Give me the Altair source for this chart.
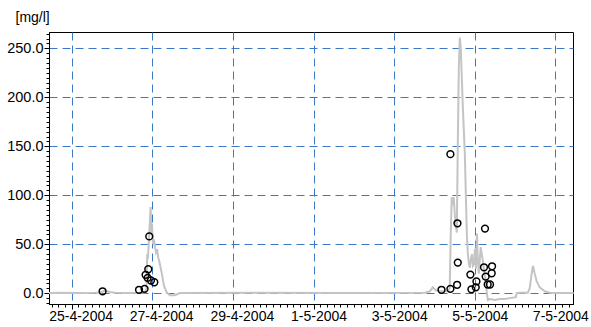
import altair as alt
import pandas as pd

# ---- data (hours after 25-4-2004 00:00, concentration in mg/l) ----
line_hours = [-13.5, -7.0, 4.9, 13.9, 16.8, 19.8, 22.8, 25.8, 34.7, 40.6, 43.6, 44.5, 45.0, 45.4,
              46.0, 46.6, 47.0, 47.5, 47.8, 48.4, 49.0, 49.6, 50.2, 50.8, 51.5, 52.5, 53.7, 54.9,
              56.5, 58.5, 61.5, 64.5, 106.1, 165.6, 210.3, 213.3, 215.0, 216.8, 219.2, 224.0,
              225.1, 225.7, 226.3, 226.9, 227.5, 228.1, 228.7, 229.3, 229.9, 230.5, 231.1, 231.7,
              232.3, 232.9, 234.1, 234.7, 235.3, 235.9, 236.5, 237.1, 237.7, 238.3, 238.9, 239.5,
              240.1, 240.7, 241.3, 241.8, 242.4, 243.0, 243.6, 244.2, 244.8, 245.4, 246.0, 246.6,
              247.2, 247.8, 249.0, 252.0, 254.9, 257.9, 260.9, 264.4, 265.0, 266.8, 271.6, 272.7,
              273.9, 274.7, 275.7, 276.9, 278.7, 281.7, 284.6, 290.6, 298.9]
line_values = [0.3, 0.5, 0.2, 0.5, 0.8, 2.5, 1.2, 0.5, 0.3, 0.5, 1.0, 5.0, 40.0, 35.0,
               55.0, 75.0, 88.0, 60.0, 71.0, 50.0, 55.0, 47.0, 42.0, 45.0, 37.0, 30.0, 20.0, 8.0,
               1.0, -2.0, -2.0, 0.2, 0.5, 0.3, 0.5, 2.0, 6.0, 3.0, 2.0, 2.0,
               5.0, 60.0, 98.0, 90.0, 98.0, 81.0, 70.0, 62.0, 150.0, 230.0, 261.0, 250.0,
               220.0, 190.0, 142.0, 100.0, 60.0, 40.0, 30.0, 26.0, 35.0, 40.0, 28.0, 30.0,
               45.0, 25.0, 61.0, 35.0, 20.0, 35.0, 47.0, 40.0, 33.0, 25.0, 18.0, 13.0,
               0.0, -7.0, -6.0, -7.0, -6.0, -6.0, -5.0, -4.0, 0.0, 0.5, 0.5, 5.0,
               20.0, 28.0, 20.0, 12.0, 6.0, 2.0, 0.5, 0.3, 0.2]

sample_hours = [18.4, 40.1, 43.4, 44.0, 45.2, 45.6, 46.2, 47.2, 49.2,
                220.2, 225.5, 229.5, 225.5, 229.7, 229.9, 246.1, 237.4, 238.0, 241.0,
                240.6, 245.5, 246.5, 250.3, 250.1, 247.7, 249.1]
sample_values = [2.0, 3.5, 4.5, 18.8, 15.7, 24.5, 58.0, 13.0, 11.2,
                 3.5, 4.5, 8.6, 142.0, 71.4, 31.3, 66.0, 19.0, 4.0, 12.0,
                 6.0, 26.5, 17.0, 27.5, 20.4, 8.9, 8.9]

major_days = ["2004-04-25", "2004-04-27", "2004-04-29", "2004-05-01",
              "2004-05-03", "2004-05-05", "2004-05-07"]
y_major = [0, 50, 100, 150, 200, 250]

base = pd.Timestamp("2004-04-25")


def to_iso(hours):
    return [(base + pd.to_timedelta(h, unit="h")).strftime("%Y-%m-%dT%H:%M:%S") for h in hours]


line_df = pd.DataFrame({"t": to_iso(line_hours), "v": line_values})
samp_df = pd.DataFrame({"t": to_iso(sample_hours), "v": sample_values})


def dt(ts):
    ts = pd.Timestamp(ts)
    return alt.DateTime(year=ts.year, month=ts.month, date=ts.day, hours=ts.hour, minutes=ts.minute)


x_domain = [dt("2004-04-24 10:30"), dt("2004-05-07 10:30")]
x_major = [dt(d) for d in major_days]
x_minor = [dt(t) for t in pd.date_range("2004-04-24 12:00", "2004-05-07 08:00", freq="4h")]
y_minor = list(range(-10, 266, 5))

FONT = "Liberation Sans"
GRID = "#3b78c8"

xscale = alt.Scale(domain=x_domain, nice=False)
yscale = alt.Scale(domain=[-11, 266.7], nice=False, zero=False)

line = alt.Chart(line_df).mark_line(color="#c4c4c4", strokeWidth=2).encode(
    x=alt.X("t:T", scale=xscale, axis=alt.Axis(
        values=x_major, format="%-d-%-m-%Y", title=None, grid=True,
        gridColor=GRID, gridDash=[8, 5], gridWidth=1, tickSize=5, tickColor="black",
        domainColor="black", labelAlign="left", labelOffset=-23, labelBaseline="top",
        labelPadding=0, labelFont=FONT, labelFontSize=14, labelColor="black",
        labelOverlap=False, labelFlush=False, orient="bottom")),
    y=alt.Y("v:Q", scale=yscale, axis=alt.Axis(
        values=y_major, format=".1f", title="[mg/l]", grid=True,
        gridColor=GRID, gridDash=[8, 5], gridWidth=1, tickSize=5, tickColor="black",
        domainColor="black", labelPadding=1, labelFont=FONT, labelFontSize=14.5,
        labelColor="black", titleAngle=0, titleAlign="left", titleBaseline="alphabetic",
        titleX=-34, titleY=-11, titleFont=FONT, titleFontSize=14, titleFontWeight="normal",
        titleColor="black", orient="left")),
)

pts = alt.Chart(samp_df).mark_point(shape="circle", filled=False, color="black",
                                    strokeWidth=1.5, size=46, opacity=1).encode(
    x=alt.X("t:T", scale=xscale, axis=alt.Axis(
        values=x_minor, labels=False, grid=False, title=None, tickSize=3,
        tickColor="black", domainColor="black", orient="bottom")),
    y=alt.Y("v:Q", scale=yscale, axis=alt.Axis(
        values=y_minor, labels=False, grid=False, title=None, tickSize=3,
        tickColor="black", domainColor="black", orient="left")),
)

chart = alt.layer(line, pts).resolve_axis(x="independent", y="independent").properties(
    width=524, height=272,
    autosize=alt.AutoSizeParams(type="none"),
    padding={"left": 49, "top": 32, "right": 18, "bottom": 23},
    background="white",
).configure_view(stroke="black", strokeWidth=1)

chart.save("out.html", embed_options={"renderer": "svg", "actions": False})
